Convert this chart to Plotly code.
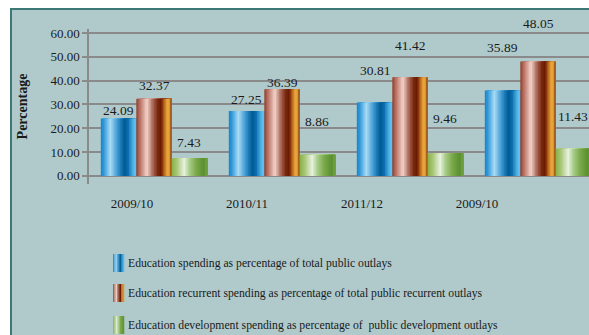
import plotly.graph_objects as go

# ---- data -------------------------------------------------------------
categories = ["2009/10", "2010/11", "2011/12", "2009/10"]
total_outlays = [24.09, 27.25, 30.81, 35.89]
recurrent_outlays = [32.37, 36.39, 41.42, 48.05]
development_outlays = [7.43, 8.86, 9.46, 11.43]
series_names = [
    "Education spending as percentage of total public outlays",
    "Education recurrent spending as percentage of total public recurrent outlays",
    "Education development spending as percentage of  public development outlays",
]
y_ticks = [0, 10, 20, 30, 40, 50, 60]

# ---- styling ----------------------------------------------------------
W, H = 589, 335
ML, MR, MT, MB = 89, 0, 29, 151
FONT = "Liberation Serif"
TEAL = "#b0cacc"
EDGE = "#3d7876"
GRID = "#8a8a8a"

# cylinder-like gradients: (position, colour) stops across a bar
gradients = [
    [(0.0, "#1580c8"), (0.1, "#3aa0dc"), (0.27, "#a8dcf5"), (0.38, "#6cb6e0"),
     (0.52, "#2a88c6"), (0.66, "#005a96"), (0.76, "#0a6aa8"), (0.9, "#4ab0e4"),
     (1.0, "#68c0ee")],
    [(0.0, "#8a4030"), (0.1, "#b87060"), (0.3, "#f2d4cc"), (0.45, "#b07060"),
     (0.6, "#7a2a10"), (0.7, "#6a1800"), (0.8, "#c07020"), (0.88, "#f0b040"),
     (0.95, "#d09030"), (1.0, "#8a4010")],
    [(0.0, "#8ab048"), (0.15, "#a8c878"), (0.35, "#e8f2e0"), (0.5, "#a8cc88"),
     (0.7, "#78a848"), (0.9, "#5a9030"), (1.0, "#70a040")],
]
# label lift above each bar top (px), per series and category
label_lift = [[8, 12, 32, 43], [13, 7, 32, 38], [16, 33, 35, 32]]


def hex_rgb(h):
    h = h.lstrip("#")
    return tuple(int(h[i:i + 2], 16) for i in (0, 2, 4))


def sample(stops, t):
    for (p0, c0), (p1, c1) in zip(stops, stops[1:]):
        if p0 <= t <= p1:
            f = (t - p0) / (p1 - p0) if p1 > p0 else 0
            a, b = hex_rgb(c0), hex_rgb(c1)
            return "rgb(%d,%d,%d)" % tuple(round(x + (y - x) * f) for x, y in zip(a, b))
    return stops[-1][1]


def px_x(px):
    return (px - ML) / (W - ML - MR)


def px_y(py):
    return (H - MB - py) / (H - MT - MB)


series = [total_outlays, recurrent_outlays, development_outlays]
idx = list(range(len(categories)))
bw = 0.277
N = 24

fig = go.Figure()
for s, vals in enumerate(series):
    base = (s - 1.5) * bw
    for k in range(N):
        start = base + k * bw / N
        fig.add_trace(go.Bar(
            x=idx, y=vals, offset=start, width=bw - k * bw / N,
            marker=dict(color=sample(gradients[s], (k + 0.5) / N), line=dict(width=0)),
            showlegend=False, hoverinfo="skip",
        ))
    for j, v in enumerate(vals):
        fig.add_annotation(
            x=j + base + bw / 2, y=v, xref="x", yref="y", text=f"{v:.2f}",
            showarrow=False, yanchor="middle", yshift=label_lift[s][j],
            font=dict(family=FONT, size=13.5, color="#1a1a1a"),
        )

# invisible trace carrying the category axis
fig.add_trace(go.Scatter(x=idx, y=[0] * len(idx), xaxis="x2", yaxis="y",
                         mode="markers", marker=dict(opacity=0),
                         showlegend=False, hoverinfo="skip"))

shapes = [dict(type="rect", xref="paper", yref="paper",
               x0=px_x(11), x1=px_x(W + 10), y0=px_y(9), y1=px_y(H + 10),
               fillcolor=TEAL, line=dict(color=EDGE, width=2), layer="below")]

# legend: gradient swatches with labels
rows = [263, 293, 325]
for s, name in enumerate(series_names):
    cy = rows[s]
    M = 8
    for k in range(M):
        shapes.append(dict(
            type="rect", xref="paper", yref="paper",
            x0=px_x(113 + k * 11 / M), x1=px_x(113 + (k + 1) * 11 / M + 0.3),
            y0=px_y(cy - 9), y1=px_y(cy + 9),
            fillcolor=sample(gradients[s], (k + 0.5) / M), line=dict(width=0),
        ))
    fig.add_annotation(x=px_x(126), y=px_y(cy), xref="paper", yref="paper",
                       text=name, showarrow=False, xanchor="left", yanchor="middle",
                       font=dict(family=FONT, size=11.7, color="#1a1a1a"))

fig.update_layout(
    width=W, height=H,
    margin=dict(l=ML, r=MR, t=MT, b=MB, pad=0),
    paper_bgcolor="white", plot_bgcolor="rgba(0,0,0,0)",
    barmode="overlay", showlegend=False,
    shapes=shapes,
    font=dict(family=FONT, color="#1a1a1a"),
    xaxis=dict(range=[(ML - 154) / 128, (W - 154) / 128], showticklabels=False,
               showgrid=False, zeroline=False, showline=False, ticks=""),
    xaxis2=dict(range=[(ML - 132) / 115, (W - 132) / 115], domain=[0, 1],
                anchor="y", overlaying="x", tickvals=idx, ticktext=categories,
                showgrid=False, zeroline=False, showline=False,
                ticks="outside", ticklen=7, tickcolor="rgba(0,0,0,0)",
                tickfont=dict(family=FONT, size=13, color="#1a1a1a"), side="bottom"),
    yaxis=dict(range=[-3.4, 61.7], tickvals=y_ticks, tickformat=".2f",
               showgrid=True, gridcolor=GRID, gridwidth=1.5, zeroline=False,
               showline=True, linecolor=GRID, linewidth=1.5,
               ticks="outside", ticklen=5, tickcolor=GRID, tickwidth=1.5,
               tickfont=dict(family=FONT, size=13, color="#1a1a1a"),
               title=dict(text="<b>Percentage</b>", standoff=20,
                          font=dict(family=FONT, size=14, color="#1a1a1a"))),
)

fig.write_html("out.html")
